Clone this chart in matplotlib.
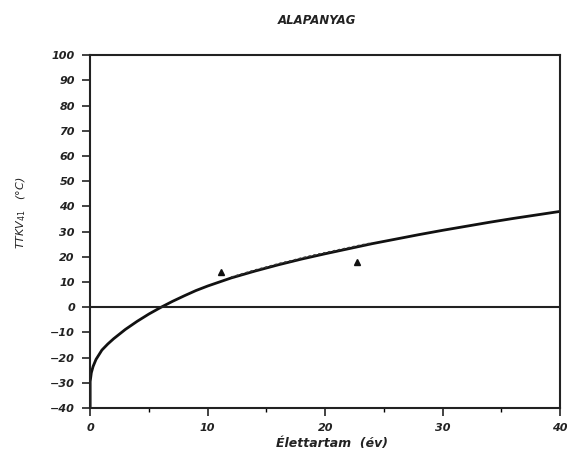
import matplotlib
matplotlib.use("Agg")
import matplotlib.pyplot as plt

# Curve values
curve_x = [0, 0, 0.1, 0.25, 0.5, 1, 1.5, 2, 3, 3.5, 4, 5, 6, 7, 8, 9, 10, 11, 12,
           14, 16, 18, 20, 22, 24, 26, 28, 30, 32, 34, 36, 38, 40]
curve_y = [-40, -29.5, -26.0, -23.5, -20.7, -17.0, -14.6, -12.5, -8.8, -7.2, -5.6,
           -2.7, -0.1, 2.3, 4.5, 6.6, 8.4, 10.0, 11.6, 14.3, 16.8, 19.1, 21.2,
           23.2, 25.2, 27.0, 28.8, 30.5, 32.1, 33.7, 35.2, 36.6, 38.0]

# Dense dotted points along the curve (x 12..24)
dots_x = [12, 13, 14, 15, 16, 17, 18, 19, 20, 21, 22, 23, 24]
dots_y = [11.9, 13.3, 14.7, 15.9, 17.2, 18.3, 19.5, 20.6, 21.6, 22.6, 23.6, 24.6, 25.5]

# Triangle data points
tri_x = [11.1, 22.7]
tri_y = [13.8, 17.8]

title = "ALAPANYAG"
xlabel = "Élettartam  (év)"
ylabel = "TTKV$_{41}$   (°C)"
xticks = [0, 10, 20, 30, 40]
xminor = [5, 15, 25, 35]
yticks = list(range(-40, 101, 10))

fig = plt.figure(figsize=(5.67, 4.59), dpi=100)
ax = fig.add_axes([0.159, 0.111, 0.829, 0.769])

ax.plot(curve_x, curve_y, color="#111111", lw=2.0, solid_capstyle="butt")
ax.plot(dots_x, dots_y, color="#333333", lw=1.2, ls=(0, (1.5, 1.5)))
ax.plot(tri_x, tri_y, ls="none", marker="^", color="#111111", ms=4.5)
ax.axhline(0, color="#222222", lw=1.5)

ax.set_xlim(0, 40)
ax.set_ylim(-40, 100)
ax.set_xticks(xticks)
ax.set_xticks(xminor, minor=True)
ax.set_yticks(yticks)

for s in ax.spines.values():
    s.set_linewidth(1.5)
    s.set_color("#222222")

ax.tick_params(axis="both", direction="out", length=6, width=1.2, color="#222222",
               labelsize=8, pad=5)
ax.tick_params(axis="x", which="minor", direction="out", length=3, width=1.0)
for lab in ax.get_xticklabels() + ax.get_yticklabels():
    lab.set_fontstyle("italic")
    lab.set_fontweight("bold")
    lab.set_color("#222222")

fig.text(332 / 567, 1 - 443 / 459, xlabel, ha="center", va="center", fontsize=9,
         fontstyle="italic", fontweight="bold", color="#222222")
fig.text(21 / 567, 1 - 213 / 459, ylabel, ha="center", va="center", rotation=90,
         fontsize=8, fontstyle="italic", color="#222222")
fig.text(317 / 567, 1 - 20 / 459, title, ha="center", va="center", fontsize=8.5,
         fontstyle="italic", fontweight="bold", color="#222222")

fig.savefig("out.png", dpi=100)
